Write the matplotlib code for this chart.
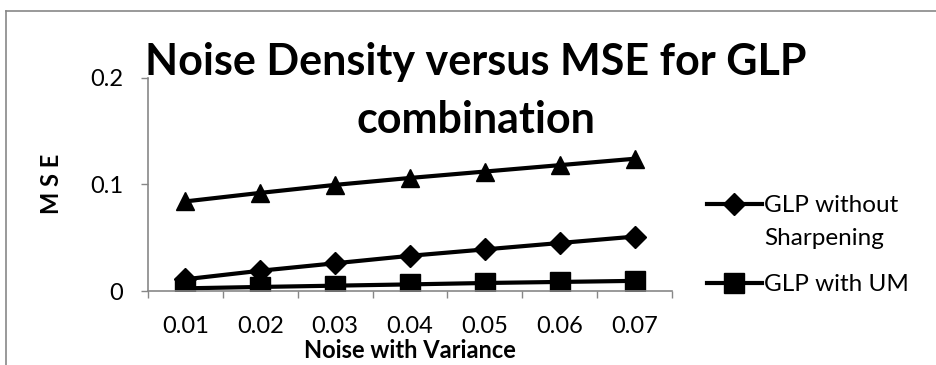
import matplotlib.pyplot as plt
import matplotlib.lines as mlines
import numpy as np

plt.rcParams['font.family'] = ['Lato', 'DejaVu Sans']

noise_var = ['0.01', '0.02', '0.03', '0.04', '0.05', '0.06', '0.07']
glp_no_sharp = [0.011, 0.019, 0.026, 0.033, 0.039, 0.045, 0.051]
glp_um = [0.0025, 0.0038, 0.005, 0.0062, 0.0075, 0.0085, 0.0095]
glp_other = [0.084, 0.092, 0.0995, 0.106, 0.112, 0.118, 0.124]

axis_grey = '#878787'
W, H = 937, 365

fig = plt.figure(figsize=(W / 100, H / 100), dpi=100)
ax = fig.add_axes([148 / W, 1 - 291 / H, 524 / W, 213.3 / H])

x = np.arange(len(noise_var))
ax.plot(x, glp_other, color='black', lw=3, marker='^', ms=13.5)
ax.plot(x, glp_no_sharp, color='black', lw=3, marker='D', ms=11,
        label='GLP without')
ax.plot(x, glp_um, color='black', lw=3, marker='s', ms=14,
        label='GLP with UM')

ax.set_xlim(-0.5, len(noise_var) - 0.5)
ax.set_ylim(0, 0.2)
ax.set_yticks([0, 0.1, 0.2])
ax.set_yticklabels(['0', '0.1', '0.2'])

# category ticks sit between the groups, labels sit under the points
ax.set_xticks(np.arange(len(noise_var) + 1) - 0.5)
ax.set_xticklabels([])
ax.set_xticks(x, minor=True)
ax.set_xticklabels(noise_var, minor=True)
ax.tick_params(axis='x', which='minor', length=0, pad=18, labelsize=17)
ax.tick_params(axis='x', which='major', length=5, width=1, color=axis_grey)
ax.tick_params(axis='y', length=5, width=1, color=axis_grey, pad=13,
               labelsize=17)

for side in ['top', 'right']:
    ax.spines[side].set_visible(False)
for side in ['left', 'bottom']:
    ax.spines[side].set_color(axis_grey)
    ax.spines[side].set_linewidth(1.2)

ax.set_xlabel('Noise with Variance', fontsize=17, fontweight='bold',
              va='center')
ax.xaxis.set_label_coords(0.5, (291 - 350.7) / 213.3)
ax.set_ylabel('M S E', fontsize=17, fontweight='bold', va='center')
ax.yaxis.set_label_coords((51 - 148) / 524, 0.5)

# two-line title, placed by baseline
fig.text(476 / W, 1 - 75 / H, 'Noise Density versus MSE for GLP',
         ha='center', va='baseline', fontsize=31, fontweight='bold')
fig.text(476 / W, 1 - 133 / H, 'combination',
         ha='center', va='baseline', fontsize=31, fontweight='bold')

leg = fig.legend(loc='upper left', bbox_to_anchor=(707 / W, 1 - 195 / H),
                 frameon=False, fontsize=17.5, handlelength=2.25,
                 handletextpad=0.1, borderpad=0, borderaxespad=0,
                 labelspacing=2.4)

# second line of the first legend label
fig.canvas.draw()
bb = leg.get_texts()[0].get_window_extent()
fig.text(bb.x0 / fig.bbox.width, (bb.y0 - 33) / fig.bbox.height,
         'Sharpening', fontsize=17.5, ha='left', va='bottom')

# frame line along the top and left edge
fig.add_artist(mlines.Line2D([6 / W, 1], [1 - 11 / H, 1 - 11 / H],
                             color=axis_grey, lw=1.2))
fig.add_artist(mlines.Line2D([6 / W, 6 / W], [0, 1 - 11 / H],
                             color=axis_grey, lw=1.2))

fig.savefig('out.png', dpi=100)
